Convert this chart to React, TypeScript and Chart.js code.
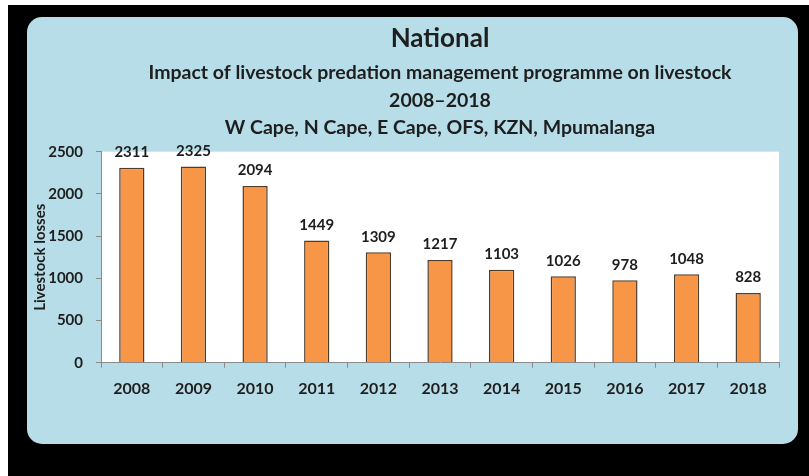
import React, { useEffect, useRef } from "react";
import { Chart, registerables } from "chart.js";

Chart.register(...registerables);

const years = ["2008", "2009", "2010", "2011", "2012", "2013", "2014", "2015", "2016", "2017", "2018"];
const losses = [2311, 2325, 2094, 1449, 1309, 1217, 1103, 1026, 978, 1048, 828];
const titleText = "National";
const subtitleLines = [
  "Impact of livestock predation management programme on livestock",
  "2008–2018",
  "W Cape, N Cape, E Cape, OFS, KZN, Mpumalanga",
];
const yTitle = "Livestock losses";

const FONT = "Lato, 'Open Sans', sans-serif";
const TEXT = "#1e1e1e";
const AXIS = "#8a8a8a";

const plotBg = {
  id: "plotBg",
  beforeDraw(chart: any) {
    const { ctx, chartArea } = chart;
    ctx.save();
    ctx.fillStyle = "#ffffff";
    ctx.fillRect(chartArea.left, chartArea.top, chartArea.right - chartArea.left, chartArea.bottom - chartArea.top);
    ctx.restore();
  },
};

const valueLabels = {
  id: "valueLabels",
  afterDatasetsDraw(chart: any) {
    const { ctx } = chart;
    const meta = chart.getDatasetMeta(0);
    const data = chart.data.datasets[0].data;
    ctx.save();
    ctx.font = `bold 15px ${FONT}`;
    ctx.fillStyle = TEXT;
    ctx.textAlign = "center";
    ctx.textBaseline = "bottom";
    meta.data.forEach((el: any, i: number) => {
      ctx.fillText(String(data[i]), el.x, el.y - 8);
    });
    ctx.restore();
  },
};

export default function App() {
  const ref = useRef<HTMLCanvasElement | null>(null);
  useEffect(() => {
    if (!ref.current) return;
    const chart = new Chart(ref.current, {
      type: "bar",
      data: {
        labels: years,
        datasets: [
          {
            data: losses,
            backgroundColor: "#F79646",
            borderColor: "#4f3d2c",
            borderWidth: 1.5,
            barPercentage: 0.41,
            categoryPercentage: 1,
          },
        ],
      },
      options: {
        responsive: false,
        animation: false,
        layout: { padding: { left: 0, right: 19, top: 0, bottom: 35 } },
        plugins: {
          legend: { display: false },
          tooltip: { enabled: false },
          title: {
            display: true,
            text: titleText,
            fullSize: false,
            color: TEXT,
            font: { family: FONT, size: 26, weight: "bold", lineHeight: 1.2 },
            padding: { top: 6, bottom: 0 },
          },
          subtitle: {
            display: true,
            text: subtitleLines,
            fullSize: false,
            color: TEXT,
            font: { family: FONT, size: 19.5, weight: "bold", lineHeight: 1.41 },
            padding: { top: 5, bottom: 10 },
          },
        },
        scales: {
          x: {
            grid: { display: true, drawOnChartArea: false, tickLength: 5, color: AXIS, offset: true },
            border: { display: true, color: AXIS },
            ticks: { color: TEXT, padding: 11, font: { family: FONT, size: 16, weight: "bold" } },
          },
          y: {
            min: 0,
            max: 2500,
            afterFit: (scale: any) => {
              scale.width = 74;
            },
            ticks: {
              stepSize: 500,
              color: TEXT,
              padding: 13,
              font: { family: FONT, size: 15, weight: "bold" },
              callback: (v: any) => String(v),
            },
            grid: { display: true, drawOnChartArea: false, tickLength: 5, color: AXIS },
            border: { display: true, color: AXIS },
            title: {
              display: true,
              text: yTitle,
              color: TEXT,
              padding: { top: 4, bottom: 0 },
              font: { family: FONT, size: 15, weight: "bold" },
            },
          },
        },
      },
      plugins: [plotBg, valueLabels],
    });
    return () => chart.destroy();
  }, []);

  return (
    <div style={{ position: "absolute", left: 8, top: 5, width: 801, height: 471, background: "#000" }}>
      <div
        style={{
          position: "absolute",
          left: 19,
          top: 12,
          width: 771,
          height: 427,
          background: "#B7DDE8",
          borderRadius: 15,
          overflow: "hidden",
        }}
      >
        <canvas ref={ref} width={771} height={427} style={{ display: "block" }} />
      </div>
    </div>
  );
}
